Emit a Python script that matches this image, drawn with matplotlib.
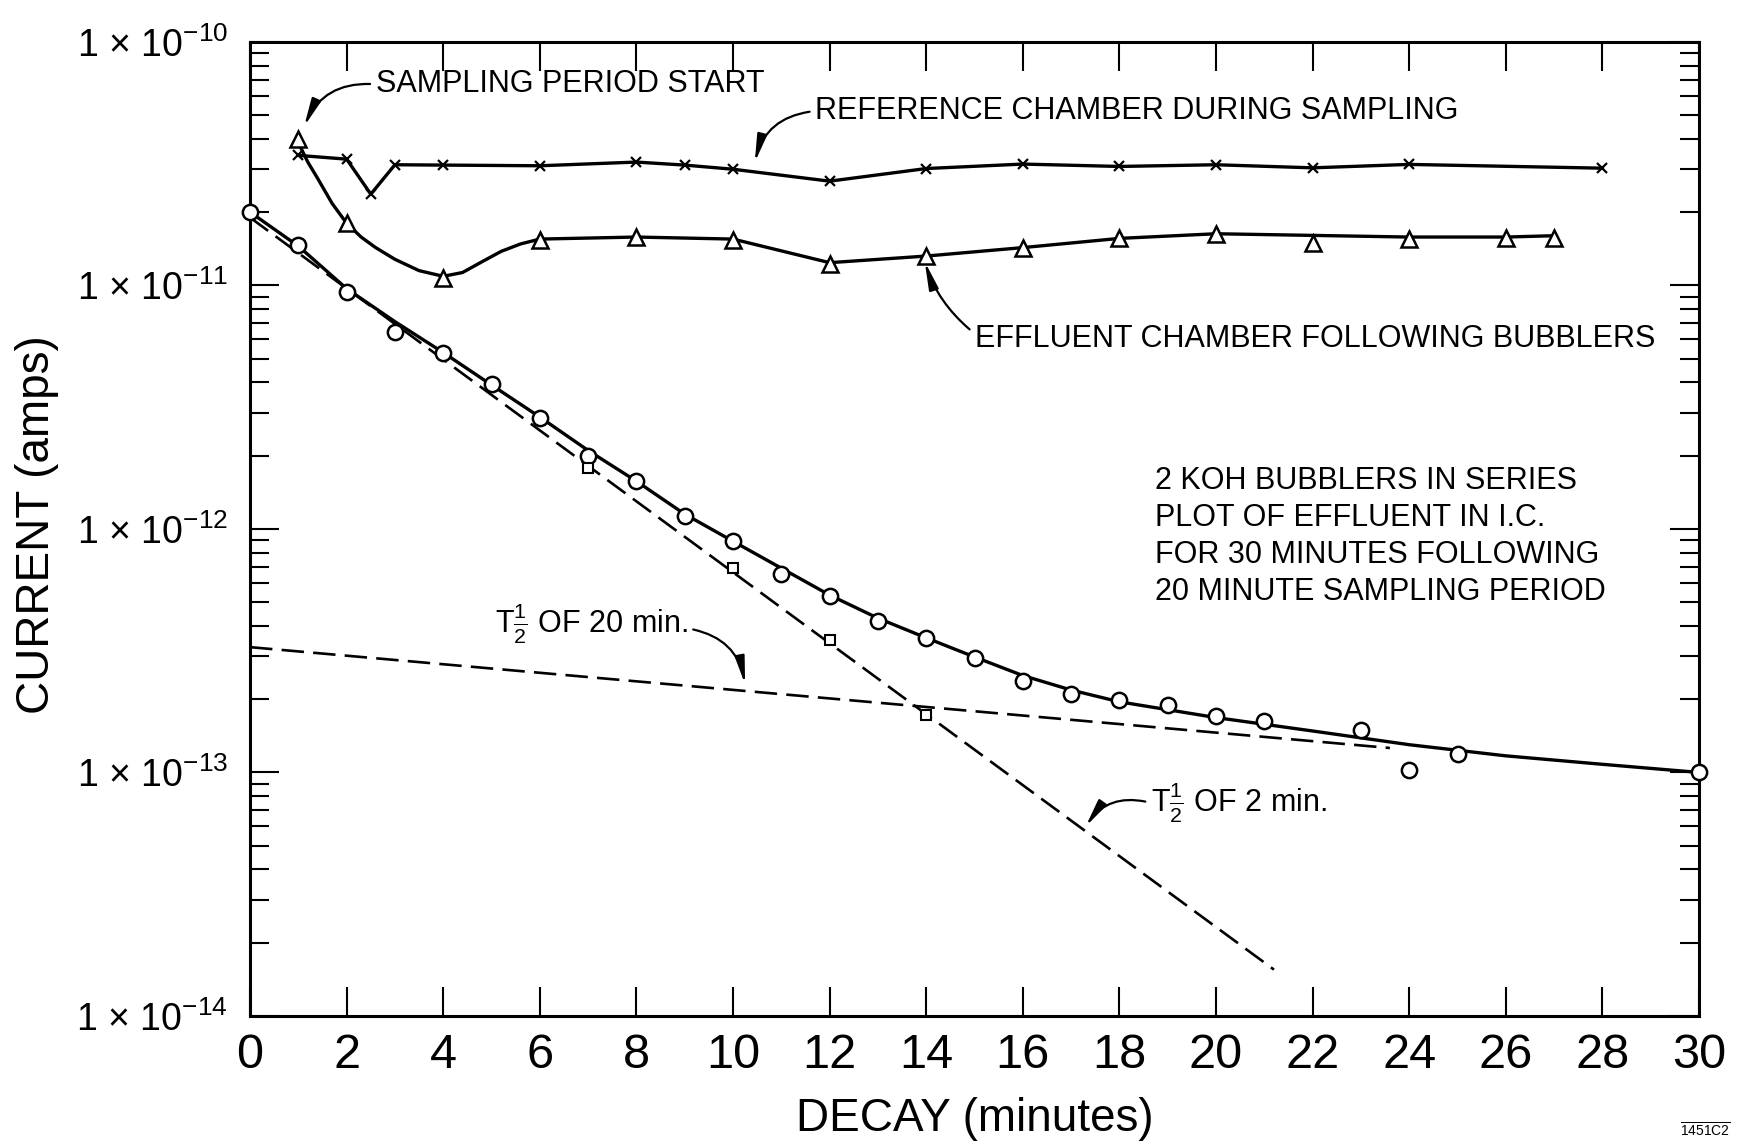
import numpy as np
import matplotlib
matplotlib.use("Agg")
import matplotlib.pyplot as plt
from matplotlib.ticker import FixedLocator, FuncFormatter, NullFormatter


# ===============================
# data
# ===============================
minute_ticks = list(range(0, 31, 2))
decade_ticks = [1e-14, 1e-13, 1e-12, 1e-11, 1e-10]

# effluent in I.C. after bubblers (open circles)
eff_t = [0, 1, 2, 3, 4, 5, 6, 7, 8, 9, 10, 11, 12, 13, 14, 15, 16, 17, 18, 19,
         20, 21, 23, 24, 25, 30]
eff_i = [2.0e-11, 1.47e-11, 9.4e-12, 6.45e-12, 5.3e-12, 3.93e-12, 2.85e-12,
         2.0e-12, 1.57e-12, 1.13e-12, 8.9e-13, 6.5e-13, 5.3e-13, 4.2e-13,
         3.57e-13, 2.94e-13, 2.38e-13, 2.1e-13, 1.99e-13, 1.9e-13, 1.71e-13,
         1.63e-13, 1.49e-13, 1.02e-13, 1.19e-13, 1.0e-13]

# hand drawn curve through the circles
fit_t = [0, 1, 2, 3, 4, 5, 6, 7, 8, 9, 10, 11, 12, 13, 14, 15, 16, 17, 18,
         20, 22, 24, 26, 28, 30]
fit_i = [2.0e-11, 1.45e-11, 9.7e-12, 7.1e-12, 5.3e-12, 3.9e-12, 2.88e-12,
         2.1e-12, 1.57e-12, 1.15e-12, 8.9e-13, 6.9e-13, 5.35e-13, 4.3e-13,
         3.57e-13, 2.98e-13, 2.5e-13, 2.18e-13, 1.95e-13, 1.68e-13, 1.48e-13,
         1.3e-13, 1.17e-13, 1.08e-13, 1.0e-13]

# 2 min half-life component (dashed) + squares
t2_t = [0, 21.2]
t2_i = [1.9e-11, 1.55e-14]
sq_t = [7, 10, 12, 14]
sq_i = [1.78e-12, 6.9e-13, 3.5e-13, 1.72e-13]

# 20 min half-life component (dashed)
t20_t = [0, 23.6]
t20_i = [3.27e-13, 1.26e-13]

# reference chamber during sampling (x)
ref_t = [1, 2, 2.5, 3, 4, 6, 8, 9, 10, 12, 14, 16, 18, 20, 22, 24, 28]
ref_i = [3.42e-11, 3.3e-11, 2.37e-11, 3.13e-11, 3.12e-11, 3.1e-11, 3.21e-11,
         3.12e-11, 3.0e-11, 2.68e-11, 3.02e-11, 3.15e-11, 3.08e-11, 3.13e-11,
         3.04e-11, 3.14e-11, 3.03e-11]

# effluent chamber following bubblers (triangles)
tri_t = [1, 2, 4, 6, 8, 10, 12, 14, 16, 18, 20, 22, 24, 26, 27]
tri_i = [4.0e-11, 1.8e-11, 1.07e-11, 1.53e-11, 1.58e-11, 1.54e-11, 1.22e-11,
         1.32e-11, 1.43e-11, 1.56e-11, 1.63e-11, 1.49e-11, 1.55e-11,
         1.56e-11, 1.57e-11]

# curve through the triangles
bub_t = [1, 1.2, 1.4, 1.7, 2, 2.3, 2.6, 3.0, 3.5, 4, 4.4, 4.8, 5.2, 5.6, 6,
         8, 10, 12, 14, 16, 18, 20, 24, 26, 27]
bub_i = [3.85e-11, 3.2e-11, 2.75e-11, 2.17e-11, 1.8e-11, 1.58e-11, 1.43e-11,
         1.28e-11, 1.15e-11, 1.09e-11, 1.13e-11, 1.25e-11, 1.38e-11, 1.48e-11,
         1.55e-11, 1.58e-11, 1.55e-11, 1.24e-11, 1.32e-11, 1.43e-11, 1.56e-11,
         1.63e-11, 1.58e-11, 1.58e-11, 1.6e-11]


# ===============================
# style
# ===============================
FONT = ['Liberation Sans Narrow', 'Liberation Sans', 'DejaVu Sans']
LETTER = ['Liberation Sans', 'DejaVu Sans']
plt.rcParams['font.family'] = FONT
plt.rcParams['mathtext.fontset'] = 'custom'
plt.rcParams['mathtext.rm'] = 'Liberation Sans'
plt.rcParams['mathtext.it'] = 'Liberation Sans'
plt.rcParams['mathtext.bf'] = 'Liberation Sans'
plt.rcParams['mathtext.default'] = 'regular'

fig = plt.figure(figsize=(17.51, 11.45), dpi=100)
ax = fig.add_axes([0.1428, 0.1127, 0.8275, 0.8507])

ax.set_xlim(0, 30)
ax.set_yscale('log')
ax.set_ylim(1e-14, 1e-10)

for s in ax.spines.values():
    s.set_linewidth(2.2)

ax.xaxis.set_major_locator(FixedLocator(minute_ticks))
ax.yaxis.set_major_locator(FixedLocator(decade_ticks))
ax.yaxis.set_major_formatter(FuncFormatter(
    lambda v, pos: '1 \u00d7 10$^{%d}$' % int(round(np.log10(v)))))
ax.yaxis.set_minor_formatter(NullFormatter())
ax.tick_params(axis='both', which='major', direction='in', length=21,
               width=1.5, top=True, right=True)
ax.tick_params(axis='y', which='minor', direction='in', length=14,
               width=1.5, right=True)
ax.tick_params(axis='x', labelsize=35, pad=12)
ax.tick_params(axis='y', labelsize=27, pad=16)

ax.set_xlabel('DECAY (minutes)', fontsize=33, labelpad=14)
fig.text(37 / 1751, 1 - 525 / 1145, 'CURRENT (amps)', rotation=90,
         ha='center', va='center', fontsize=33)

# ===============================
# curves
# ===============================
ax.plot(fit_t, fit_i, color='black', lw=2.4, zorder=3)
ax.plot(eff_t, eff_i, linestyle='none', marker='o', markersize=11,
        markerfacecolor='white', markeredgecolor='black', markeredgewidth=1.8,
        clip_on=False, zorder=5)

ax.plot(t2_t, t2_i, color='black', lw=1.9, dashes=(8.5, 3.5), zorder=3)
ax.plot(sq_t, sq_i, linestyle='none', marker='s', markersize=7,
        markerfacecolor='white', markeredgecolor='black', markeredgewidth=1.5,
        zorder=5)
ax.plot(t20_t, t20_i, color='black', lw=1.9, dashes=(8.5, 3.5), zorder=3)

ax.plot(ref_t, ref_i, color='black', lw=2.4, marker='x', markersize=7,
        markeredgewidth=1.6, zorder=4)

ax.plot(bub_t, bub_i, color='black', lw=2.4, zorder=3)
ax.plot(tri_t, tri_i, linestyle='none', marker='^', markersize=11,
        markerfacecolor='white', markeredgecolor='black', markeredgewidth=1.8,
        zorder=5)

# ===============================
# annotations
# ===============================
arrow = dict(arrowstyle='-|>,head_length=0.75,head_width=0.13', lw=1.6,
             color='black', shrinkA=2, shrinkB=0)

ax.annotate('SAMPLING PERIOD START', xy=(1.12, 4.5e-11), xytext=(2.6, 6.7e-11),
            fontsize=22, family=LETTER, ha='left', va='center',
            arrowprops=dict(arrow, relpos=(0, 0.5),
                            connectionstyle='arc3,rad=0.35'))

ax.annotate('REFERENCE CHAMBER DURING SAMPLING', xy=(10.45, 3.2e-11),
            xytext=(11.7, 5.2e-11), fontsize=22, family=LETTER,
            ha='left', va='center',
            arrowprops=dict(arrow, relpos=(0, 0.5),
                            connectionstyle='arc3,rad=0.35'))

ax.annotate('EFFLUENT CHAMBER FOLLOWING BUBBLERS', xy=(13.97, 1.25e-11),
            xytext=(15.0, 6.0e-12), fontsize=22, family=LETTER,
            ha='left', va='center',
            arrowprops=dict(arrow, relpos=(0, 0.7),
                            connectionstyle='arc3,rad=-0.15'))

ax.text(0.6246, 0.492, '2 KOH BUBBLERS IN SERIES\nPLOT OF EFFLUENT IN I.C.\n'
        'FOR 30 MINUTES FOLLOWING\n20 MINUTE SAMPLING PERIOD',
        transform=ax.transAxes, fontsize=22, family=LETTER, ha='left',
        va='center', linespacing=1.3)

ax.annotate(r'T$\frac{1}{2}$ OF 20 min.', xy=(10.25, 2.3e-13),
            xytext=(5.07, 4.07e-13), fontsize=22, family=LETTER,
            ha='left', va='center',
            arrowprops=dict(arrow, relpos=(1, 0.4),
                            connectionstyle='arc3,rad=-0.35'))

ax.annotate(r'T$\frac{1}{2}$ OF 2 min.', xy=(17.3, 6.0e-14),
            xytext=(18.65, 7.5e-14), fontsize=22, family=LETTER,
            ha='left', va='center',
            arrowprops=dict(arrow, relpos=(0, 0.5),
                            connectionstyle='arc3,rad=0.35'))

fig.text(0.974, 0.013, r'$\overline{\mathrm{1451C2}}$', fontsize=10,
         ha='center', va='center')

fig.savefig('out.png', dpi=100, facecolor='white')
